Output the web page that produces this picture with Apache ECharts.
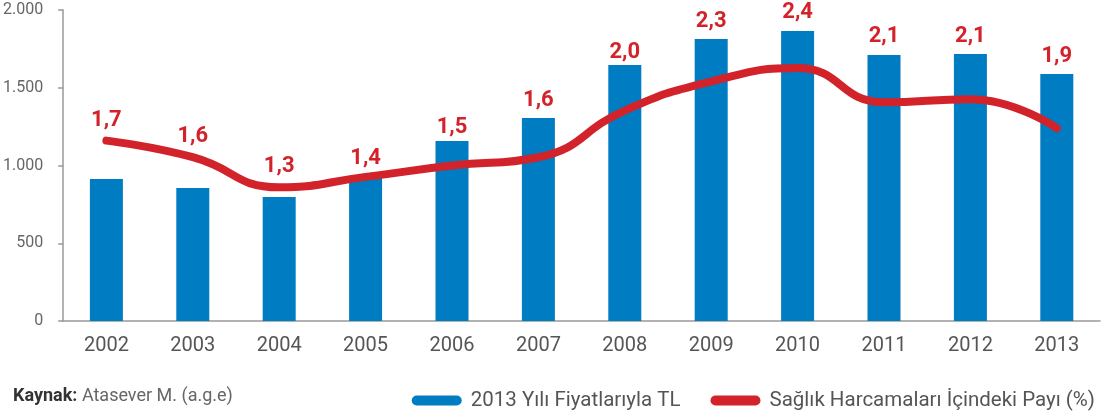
<!DOCTYPE html>
<html>
<head>
<meta charset="utf-8">
<script src="https://cdn.jsdelivr.net/npm/echarts@6/dist/echarts.min.js"></script>
<style>
  html, body { margin: 0; padding: 0; background: #fff; }
  #chart { width: 1109px; height: 417px; }
</style>
</head>
<body>
<div id="chart"></div>
<script>
// yillar
var years = ['2002', '2003', '2004', '2005', '2006', '2007', '2008', '2009', '2010', '2011', '2012', '2013']
// 2013 yili fiyatlariyla TL
var spending = [913, 855, 797, 932, 1157, 1305, 1646, 1813, 1865, 1711, 1717, 1588]
// saglik harcamalari icindeki payi (%)
var share = [1.74, 1.58, 1.29, 1.39, 1.50, 1.58, 2.03, 2.31, 2.44, 2.11, 2.14, 1.86]

var leftMax = 2000
var rightMax = 3
var blue = '#007cc3'
var red = '#d2232a'
var font = '"Liberation Sans Narrow", Roboto, sans-serif'
var pill = 'path://M5,0 H45 A5,5 0 0 1 45,10 H5 A5,5 0 0 1 5,0 Z'

function fmt(v) {
  return v.toFixed(1).replace('.', ',')
}

var labelStyle = {
  show: true,
  position: 'top',
  color: red,
  fontFamily: 'Roboto, sans-serif',
  fontWeight: 'bold',
  fontSize: 22
}

// label goes above whichever mark is higher
var barData = []
var lineData = []
for (var i = 0; i < years.length; i++) {
  var lineHigher = share[i] * leftMax / rightMax > spending[i]
  barData.push({
    value: spending[i],
    label: Object.assign({}, labelStyle, { show: !lineHigher, distance: 7, formatter: fmt(share[i]) })
  })
  lineData.push({
    value: share[i],
    label: Object.assign({}, labelStyle, { show: lineHigher, distance: 9, formatter: fmt(share[i]) })
  })
}
// 2008 ve 2006 etiketleri cubuga daha yakin
barData[6].label.distance = 2
barData[4].label.distance = 3

var chart = echarts.init(document.getElementById('chart'))
chart.setOption({
  animation: false,
  grid: {
    top: 10,
    left: 63,
    right: 9,
    bottom: 96
  },
  graphic: [
    {
      type: 'text',
      left: 13,
      top: 387,
      style: {
        text: '{b|Kaynak:} Atasever M. (a.g.e)',
        font: '18px ' + font,
        fill: '#666',
        rich: {
          b: { fontWeight: 'bold', fill: '#333', fontSize: 18, fontFamily: font }
        }
      }
    }
  ],
  legend: {
    right: 9,
    top: 385,
    itemWidth: 50,
    itemHeight: 10,
    itemGap: 30,
    icon: pill,
    textStyle: {
      fontFamily: font,
      fontSize: 20.5,
      color: '#555',
      padding: [0, 0, 0, 4]
    },
    data: ['2013 Yılı Fiyatlarıyla TL', 'Sağlık Harcamaları İçindeki Payı (%)']
  },
  xAxis: {
    type: 'category',
    data: years,
    axisLine: { lineStyle: { color: '#999', width: 1.5 } },
    axisTick: { length: 6, lineStyle: { color: '#999', width: 1.5 } },
    axisLabel: {
      margin: 15,
      fontFamily: font,
      fontSize: 20,
      color: '#555'
    }
  },
  yAxis: [
    {
      type: 'value',
      min: 0,
      max: leftMax,
      interval: 500,
      splitLine: { show: false },
      axisLine: { show: true, lineStyle: { color: '#999', width: 1.5 } },
      axisTick: { show: true, length: 5, lineStyle: { color: '#999', width: 1.5 } },
      axisLabel: {
        margin: 20,
        fontFamily: font,
        fontSize: 16,
        color: '#666',
        formatter: function (v) {
          return v >= 1000 ? String(v).replace(/(\d)(\d{3})$/, '$1.$2') : String(v)
        }
      }
    },
    {
      type: 'value',
      min: 0,
      max: rightMax,
      show: false,
      splitLine: { show: false }
    }
  ],
  series: [
    {
      name: '2013 Yılı Fiyatlarıyla TL',
      type: 'bar',
      barWidth: 33,
      itemStyle: { color: blue },
      data: barData
    },
    {
      name: 'Sağlık Harcamaları İçindeki Payı (%)',
      type: 'line',
      yAxisIndex: 1,
      smooth: 0.5,
      symbol: 'circle',
      symbolSize: 1,
      itemStyle: { color: red },
      lineStyle: { color: red, width: 8, cap: 'round' },
      data: lineData
    }
  ]
})
</script>
</body>
</html>
